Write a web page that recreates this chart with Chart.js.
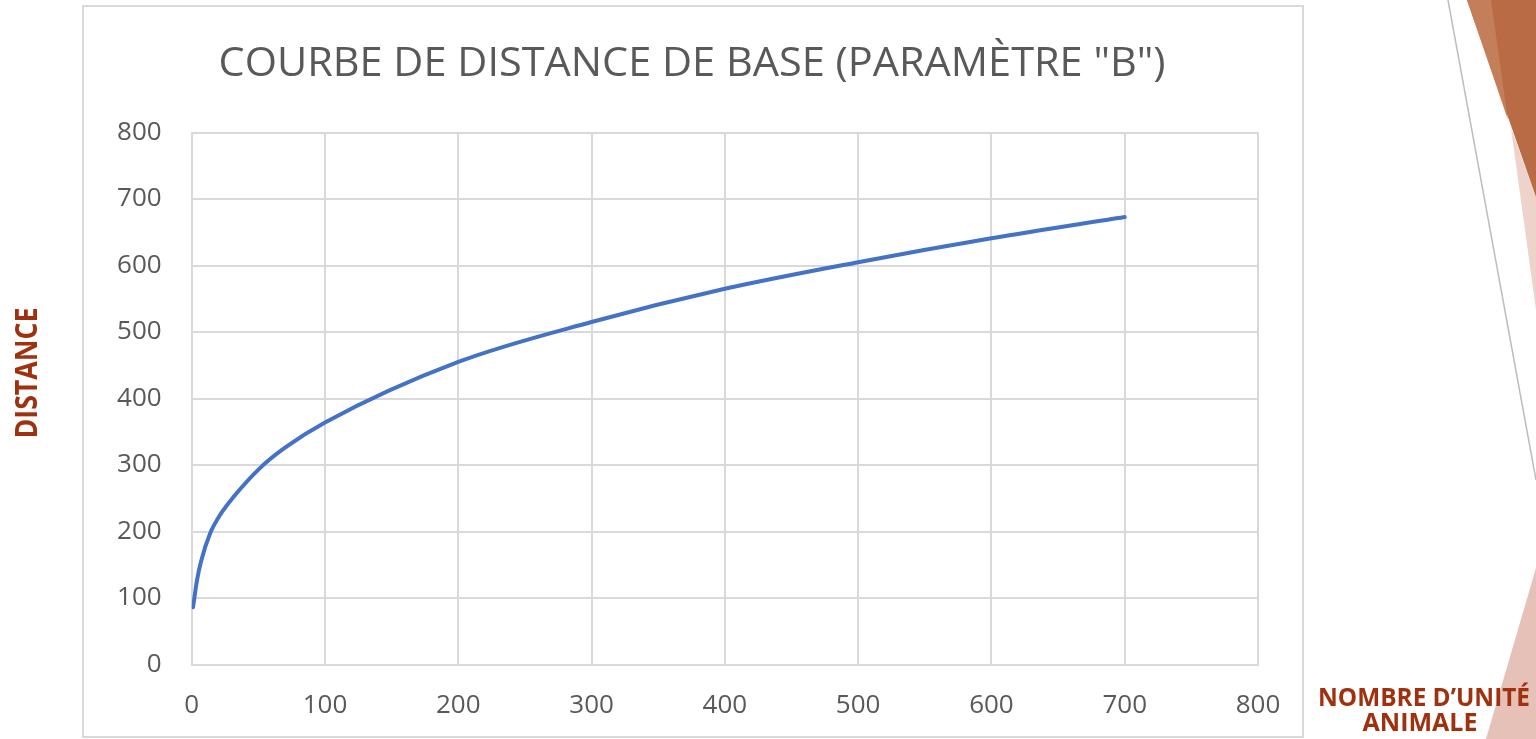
<!DOCTYPE html>
<html><head><meta charset="utf-8">
<script src="https://cdn.jsdelivr.net/npm/chart.js@4.4.0/dist/chart.umd.min.js"></script>
<style>html,body{margin:0;padding:0;background:#fff;overflow:hidden}canvas{display:block}</style>
</head><body>
<canvas id="c" width="1536" height="739"></canvas>
<script>
const titleText = 'COURBE DE DISTANCE DE BASE (PARAMÈTRE "B")';
const yAxisLabel = 'DISTANCE';
const xAxisLabelLines = ['NOMBRE D’UNITÉ', 'ANIMALE'];
const unitsAnimal = [1, 4, 7, 14, 21, 31, 51, 70, 100, 200, 300, 400, 500, 600, 700];
const distance    = [86, 127, 155, 198, 224, 251, 295, 326, 364, 455, 515, 565, 605, 641, 673];
const xTickValues = [0, 100, 200, 300, 400, 500, 600, 700, 800];
const yTickValues = [0, 100, 200, 300, 400, 500, 600, 700, 800];

function fitText(ctx, text, cx, baseline, width, font, color, rot) {
  ctx.save();
  ctx.font = font; ctx.fillStyle = color;
  ctx.textAlign = 'center'; ctx.textBaseline = 'alphabetic';
  const w = ctx.measureText(text).width;
  const k = width / w;
  ctx.translate(cx, baseline); ctx.rotate(rot || 0); ctx.scale(k, 1);
  ctx.fillText(text, 0, 0);
  ctx.restore();
}
function poly(ctx, pts, color) {
  ctx.beginPath(); ctx.moveTo(pts[0][0], pts[0][1]);
  for (let i = 1; i < pts.length; i++) ctx.lineTo(pts[i][0], pts[i][1]);
  ctx.closePath(); ctx.fillStyle = color; ctx.fill();
}

const deco = {
  id: 'deco',
  beforeDraw(chart) {
    const ctx = chart.ctx; ctx.save();
    ctx.fillStyle = '#fff'; ctx.fillRect(0, 0, 1536, 739);
    poly(ctx, [[1511, 128], [1536, 197], [1536, 310]], '#EDD3CA');
    poly(ctx, [[1467, 0], [1536, 0], [1536, 197]], '#B86B45');
    poly(ctx, [[1467, 0], [1491, 0], [1508, 120]], '#C47E59');
    poly(ctx, [[1536, 568], [1536, 739], [1486, 739]], '#E5C1B7');
    ctx.strokeStyle = '#BDBDBD'; ctx.lineWidth = 1.5;
    ctx.beginPath(); ctx.moveTo(1448, 0); ctx.lineTo(1536, 480); ctx.stroke();
    ctx.strokeStyle = '#d9d9d9'; ctx.lineWidth = 2;
    ctx.strokeRect(83, 6, 1220, 731);
    ctx.restore();
  },
  afterDraw(chart) {
    const ctx = chart.ctx;
    fitText(ctx, titleText, 692, 76, 947, '40.6px "Open Sans"', '#595959', 0);
    fitText(ctx, yAxisLabel, 37, 373, 131, 'bold 30px "Open Sans"', '#A0310F', -Math.PI / 2);
    fitText(ctx, xAxisLabelLines[0], 1424, 706, 212, 'bold 25px "Open Sans"', '#A0310F', 0);
    fitText(ctx, xAxisLabelLines[1], 1420, 731, 115, 'bold 25px "Open Sans"', '#A0310F', 0);
  }
};

const tickFont = { family: 'Open Sans', size: 26 };
new Chart(document.getElementById('c'), {
  type: 'line',
  data: {
    datasets: [{
      data: unitsAnimal.map((x, i) => ({ x: x, y: distance[i] })),
      borderColor: '#4472C4', borderWidth: 4, pointRadius: 0,
      cubicInterpolationMode: 'monotone', fill: false, borderCapStyle: 'round'
    }]
  },
  options: {
    responsive: false, animation: false, devicePixelRatio: 1,
    layout: { padding: { left: 82, right: 278, top: 132.5, bottom: 2 } },
    plugins: { legend: { display: false }, title: { display: false }, tooltip: { enabled: false } },
    scales: {
      x: {
        type: 'linear', min: 0, max: 800,
        afterFit: s => { s.height = 72.5; },
        afterBuildTicks: s => { s.ticks = xTickValues.map(v => ({ value: v })); },
        grid: { color: '#d9d9d9', lineWidth: 2, drawTicks: false },
        border: { color: '#d9d9d9', width: 2 },
        ticks: { padding: 25, color: '#595959', font: tickFont, maxRotation: 0 }
      },
      y: {
        type: 'linear', min: 0, max: 800,
        afterFit: s => { s.width = 109.7; },
        afterBuildTicks: s => { s.ticks = yTickValues.map(v => ({ value: v })); },
        grid: { color: '#d9d9d9', lineWidth: 2, drawTicks: false },
        border: { color: '#d9d9d9', width: 2 },
        ticks: { padding: 30, color: '#595959', font: tickFont }
      }
    }
  },
  plugins: [deco]
});
</script>
</body></html>
